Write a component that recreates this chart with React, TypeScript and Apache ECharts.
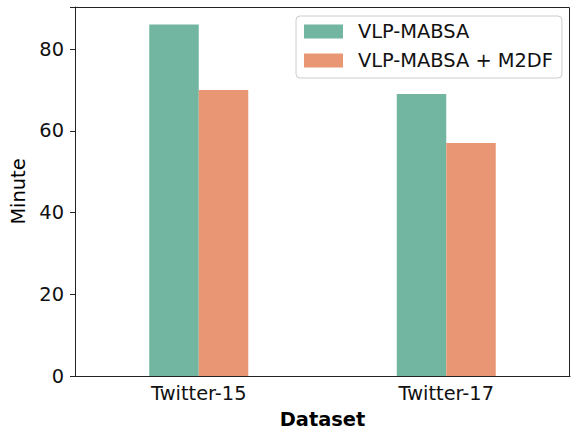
import React, { useEffect, useRef } from "react";
import * as echarts from "echarts";

const categories = ["Twitter-15", "Twitter-17"];
const seriesNames = ["VLP-MABSA", "VLP-MABSA + M2DF"];
const vlpValues = [86, 69];
const m2dfValues = [70, 57];
const yTicks = [0, 20, 40, 60, 80];

const FONT = "DejaVu Sans";
const FS = 19.4;
const GRID = { left: 75, right: 1, top: 7, bottom: 54 };
const W = 571;
const H = 430;

export default function App() {
  const ref = useRef<HTMLDivElement>(null);
  useEffect(() => {
    if (!ref.current) return;
    const chart = echarts.init(ref.current, undefined, { renderer: "svg" });
    const x0 = GRID.left + 0.5;
    const x1 = W - GRID.right - 0.5;
    const y0 = GRID.top + 0.5;
    const y1 = H - GRID.bottom;
    chart.setOption({
      animation: false,
      backgroundColor: "#ffffff",
      textStyle: { fontFamily: FONT },
      grid: {
        ...GRID,
        outerBoundsMode: "none",
        containLabel: false,
      },
      graphic: [
        {
          type: "polyline",
          z: 100,
          silent: true,
          shape: { points: [[x0, y0], [x1, y0], [x1, y1]] },
          style: { stroke: "#222", lineWidth: 1, fill: "none" },
        },
      ],
      legend: {
        orient: "vertical",
        left: 296,
        top: 16,
        padding: [6, 9, 8, 8],
        itemWidth: 39,
        itemHeight: 14,
        itemGap: 10,
        borderColor: "#cccccc",
        borderWidth: 1,
        borderRadius: 4,
        backgroundColor: "rgba(255,255,255,0.8)",
        textStyle: {
          fontFamily: FONT,
          fontSize: FS,
          lineHeight: 19,
          color: "#111",
          padding: [0, 0, 0, 10],
        },
        data: seriesNames.map((n) => ({ name: n, icon: "rect" })),
      },
      xAxis: {
        type: "category",
        data: categories,
        name: "Dataset",
        nameLocation: "middle",
        nameGap: 34,
        nameTextStyle: { fontFamily: FONT, fontSize: FS, fontWeight: "bold", color: "#000" },
        axisLine: { onZero: false, lineStyle: { color: "#222", width: 1 } },
        axisTick: { alignWithLabel: true, length: 5, lineStyle: { color: "#222" } },
        axisLabel: { fontFamily: FONT, fontSize: FS, color: "#111", margin: 8 },
        splitLine: { show: false },
      },
      yAxis: {
        type: "value",
        min: 0,
        max: 90.3,
        interval: 20,
        name: "Minute",
        nameLocation: "middle",
        nameGap: 25,
        nameTextStyle: { fontFamily: FONT, fontSize: FS, color: "#000" },
        axisLine: { show: true, onZero: false, lineStyle: { color: "#222", width: 1 } },
        axisTick: { show: true, length: 5, lineStyle: { color: "#222" } },
        axisLabel: {
          fontFamily: FONT,
          fontSize: FS,
          color: "#111",
          margin: 11,
          formatter: (v: number) => (yTicks.includes(v) ? String(v) : ""),
        },
        splitLine: { show: false },
      },
      series: [
        {
          name: seriesNames[0],
          type: "bar",
          data: vlpValues,
          barWidth: 49.5,
          barGap: "0%",
          itemStyle: { color: "#72b6a1" },
        },
        {
          name: seriesNames[1],
          type: "bar",
          data: m2dfValues,
          barWidth: 49.5,
          barGap: "0%",
          itemStyle: { color: "#e99675" },
        },
      ],
    });
    return () => chart.dispose();
  }, []);
  return (
    <div
      ref={ref}
      style={{ position: "fixed", left: 0, top: 0, width: W, height: H }}
    />
  );
}
